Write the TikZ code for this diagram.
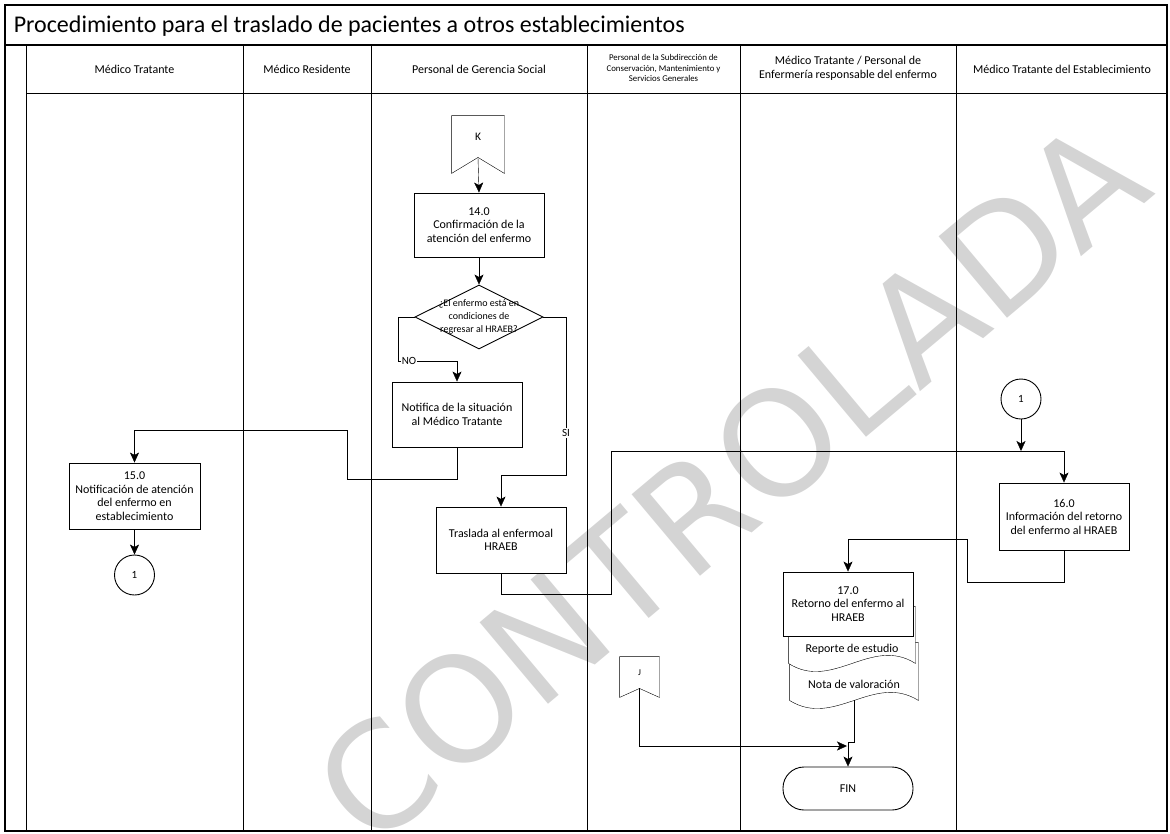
\documentclass[tikz,border=0pt]{standalone}
\usepackage{fontspec}
\setmainfont{Carlito}
\newfontfamily\markfont{DejaVu Sans}
\usetikzlibrary{calc,
	positioning,
	shapes.geometric,
	arrows.meta}
\pgfdeclarelayer{back}
\pgfsetlayers{back,main}

\begin{document}
\begin{tikzpicture}[x=1pt, y=-1pt, line width=0.9pt,
	font=\fontsize{12}{13.5}\selectfont,
	>={Stealth[length=10pt, width=9pt, inset=2.5pt]},
	proc/.style={draw, fill=white, align=center, minimum width=130, minimum height=65, inner sep=1pt},
	lane/.style={align=center, font=\fontsize{12}{14}\selectfont},
	conn/.style={draw, fill=white, circle, minimum size=40, inner sep=0pt, font=\fontsize{11}{12}\selectfont},
	offpage/.style={inner sep=0pt, font=\fontsize{11.5}{12}\selectfont},
	doc/.style={align=center, inner sep=0pt},
	lbl/.style={fill=white, inner sep=1pt, font=\fontsize{11}{12}\selectfont}]
	\useasboundingbox (0,0) rectangle (1170,833);
	% Settings
	\pgfmathsetmacro{\fl}{5}
	\pgfmathsetmacro{\fr}{1167}
	\pgfmathsetmacro{\ft}{5}
	\pgfmathsetmacro{\fb}{831}
	\pgfmathsetmacro{\titlebot}{45}
	\pgfmathsetmacro{\headbot}{93}
	% /Settings
	\draw[line width=1.1pt] (\fl,\ft) rectangle (\fr,\fb);
	\draw[line width=1.1pt] (\fl,\titlebot) -- (\fr,\titlebot);
	\draw (26,\titlebot) -- (26,\fb);
	\draw (26,\headbot) -- (\fr,\headbot);
	\foreach \x in {243,371,587,740,956}{
		\draw (\x,\titlebot) -- (\x,\fb);
	}
	\node[anchor=west, font=\fontsize{24}{28}\selectfont] (titulo) at (10,26) {Procedimiento para el traslado de pacientes a otros establecimientos};

	% lanes
	\node[lane] (l1) at (134.5,69) {Médico Tratante};
	\node[lane] (l2) at (307,69) {Médico Residente};
	\node[lane] (l3) at (479,69) {Personal de Gerencia Social};
	\node[lane, font=\fontsize{8.8}{10.5}\selectfont] (l4) at (663.5,68) {Personal de la Subdirección de\\Conservación, Mantenimiento y\\Servicios Generales};
	\node[lane] (l5) at (848,68) {Médico Tratante / Personal de\\Enfermería responsable del enfermo};
	\node[lane] (l6) at (1062,69) {Médico Tratante del Establecimiento};

	% activities
	\node[offpage, minimum width=52, minimum height=41] (k) at (478,136.5) {K};
	\node[proc, minimum height=64] (c14) at (479,225) {14.0\\Confirmación de la\\atención del enfermo};
	\node[diamond, aspect=2, draw, fill=white, minimum width=128, minimum height=64, inner sep=0pt] (dec) at (479,317) {};
	\node[align=center, font=\fontsize{10}{13}\selectfont] (dect) at (dec) {¿El enfermo está en\\condiciones de\\regresar al HRAEB?};
	\node[proc] (notif) at (457,414.5) {Notifica de la situación\\al Médico Tratante};
	\node[proc, minimum width=131, minimum height=66] (c15) at (134.5,496) {15.0\\Notificación de atención\\del enfermo en\\establecimiento};
	\node[conn] (con1a) at (134.5,575) {1};
	\node[proc, minimum height=66] (tras) at (501,540) {Traslada al enfermoal\\HRAEB};
	\node[conn] (con1b) at (1021,399) {1};
	\node[proc, minimum height=67] (c16) at (1064,516.5) {16.0\\Información del retorno\\del enfermo al HRAEB};
	\node[doc, minimum width=128, minimum height=32] (nota) at (854,684) {Nota de valoración};
	\node[doc, minimum width=126, minimum height=27] (rep) at (852,649.5) {Reporte de estudio};
	\node[proc, minimum height=64] (c17) at (848,604) {17.0\\Retorno del enfermo al\\HRAEB};
	\node[offpage, minimum width=39, minimum height=31, font=\fontsize{9}{10}\selectfont] (j) at (639.5,672.5) {J};
	\node[draw, fill=white, rounded corners=21, minimum width=130, minimum height=43] (fin) at (848,788.5) {FIN};

	\begin{pgfonlayer}{back}
		\node[rotate=40, text=black!17, font=\markfont\fontsize{146}{146}\selectfont] (sello) at (730,482) {CONTROLADA};
		% off-page marks
		\draw[fill=white] (k.north west) -- (k.north east) -- ($(k.south east)+(0,16)$) -- (k.south) -- ($(k.south west)+(0,16)$) -- cycle;
		\draw[fill=white] (j.north west) -- (j.north east) -- ($(j.south east)+(0,9)$) -- (j.south) -- ($(j.south west)+(0,9)$) -- cycle;
		% documents
		\draw[fill=white] ($(nota.north west)+(0,-25)$) -- ($(nota.north east)+(0,-25)$) -- (nota.south east) .. controls ($(nota.south east)+(-45,-28)$) and ($(nota.south west)+(45,28)$) .. (nota.south west) -- cycle;
		\draw[fill=white] ($(rep.north west)+(0,-29)$) -- ($(rep.north east)+(0,-29)$) -- (rep.south east) .. controls ($(rep.south east)+(-44,-28)$) and ($(rep.south west)+(44,28)$) .. (rep.south west) -- cycle;
	\end{pgfonlayer}

	% connectors
	\coordinate (no1) at (398,361);
	\coordinate (si1) at (566,475);
	\coordinate (n1) at (347,479);
	\coordinate (n2) at (347,430);
	\coordinate (t1) at (611,594);
	\coordinate (t2) at (611,451);
	\coordinate (u1) at (967,582);
	\coordinate (u2) at (967,539);
	\coordinate (f1) at (854,742);
	\coordinate (j1) at (847,746);
	\draw[->] (k.south) -- (c14.north);
	\draw[->] (c14.south) -- (dec.north);
	\draw[->] (dec.west) -| (no1) -| (notif.north);
	\draw[->] (dec.east) -| (si1) -| (tras.north);
	\draw[->] (notif.south) |- (n1) -- (n2) -| (c15.north);
	\draw[->] (c15.south) -- (con1a.north);
	\draw[->] (tras.south) |- (t1) -- (t2) -| (c16.north);
	\draw[->] (con1b.south) -- (con1b.south |- t2);
	\draw[->] (c16.south) |- (u1) -- (u2) -| (c17.north);
	\draw[->] (nota.south) -- (f1) -| (fin.north);
	\draw[->] (j.south) |- (j1);
	\node[lbl] (no) at (409,361) {NO};
	\node[lbl] (si) at (566,433) {SI};
\end{tikzpicture}
\end{document}
